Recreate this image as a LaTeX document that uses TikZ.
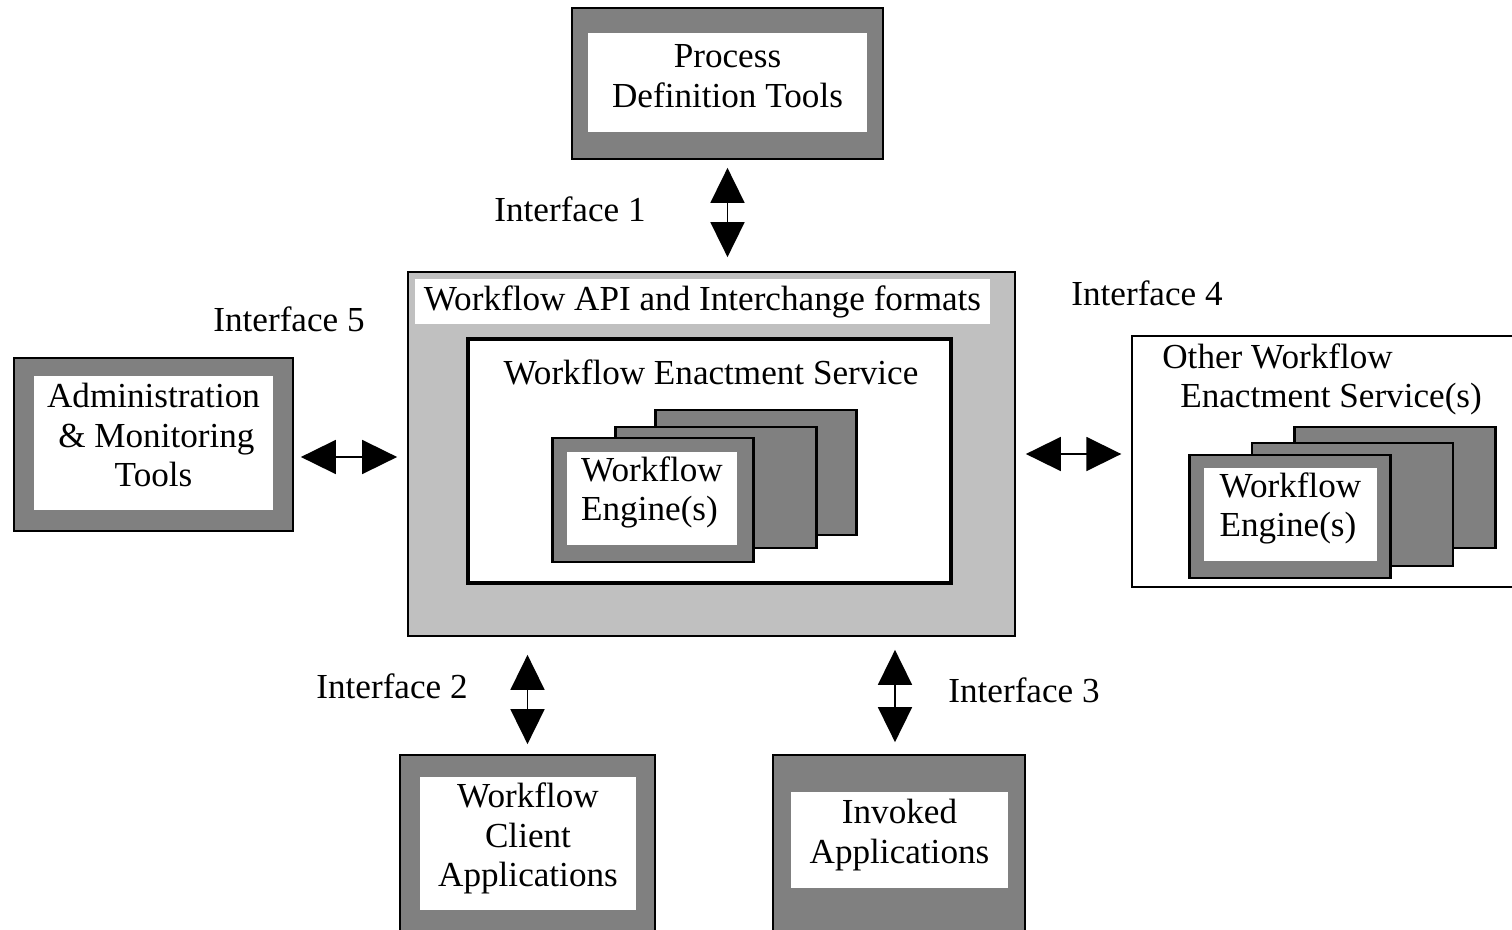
\documentclass[tikz,border=0pt]{standalone}
\usepackage{fontspec}
\setmainfont{Liberation Serif}
\usepackage{xcolor}
\usepackage{tikz}
\usetikzlibrary{arrows.meta}
\usetikzlibrary{calc,positioning}

\definecolor{boxgray}{HTML}{808080}
\definecolor{apigray}{HTML}{C0C0C0}
\newcommand{\pu}{0.02cm}

\tikzset{
	outerbox/.style={draw=black,fill=boxgray,line width=1pt,inner sep=0pt},
	innerbox/.style={fill=white,inner sep=0pt},
	enginebox/.style={draw=black,fill=boxgray,line width=1.5pt,inner sep=0pt,minimum width=201*\pu},
	dbl/.style={{Triangle[length=0.7cm,width=0.68cm]}-{Triangle[length=0.7cm,width=0.68cm]},line width=1pt},
	lbl/.style={inner sep=0pt,align=center}
}

\begin{document}
\begin{tikzpicture}[x=0.02cm,y=-0.02cm,font=\fontsize{20}{22.5}\selectfont]
	\clip (0,0) rectangle (1512,930);
	\fill[white] (0,0) rectangle (1512,930);
	% process definition tools
	\node[outerbox,minimum width=311*\pu,minimum height=151*\pu] (pdt) at (727.5,83.5) {};
	\node[innerbox,minimum width=279*\pu,minimum height=99*\pu] (pdtin) at (727.5,82.5) {};
	\node[lbl] (pdttext) at ([yshift=0.13cm]pdtin.center) {Process\\Definition Tools};
	% workflow api box
	\node[draw=black,fill=apigray,line width=1pt,inner sep=0pt,minimum width=607*\pu,minimum height=364*\pu] (api) at (711.5,454) {};
	\node[innerbox,minimum width=575*\pu,minimum height=45*\pu] (apititle) at (702.5,301.5) {Workflow API and Interchange formats};
	\node[draw=black,fill=white,line width=2pt,inner sep=0pt,minimum width=483*\pu,minimum height=244*\pu] (wes) at (709.5,461) {};
	\node[lbl] (westitle) at (711,372) {Workflow Enactment Service};
	\node[enginebox,minimum height=125*\pu] (eng3) at (756,472.5) {};
	\node[enginebox,minimum height=121*\pu] (eng2) at (716,487.5) {};
	\node[enginebox,minimum height=124*\pu] (eng1) at (653,500) {};
	\node[innerbox,minimum width=170*\pu,minimum height=93*\pu] (eng1in) at (652,498.5) {};
	\node[lbl,align=left] (eng1text) at ([yshift=0.12cm]eng1in.center) {Workflow\\Engine(s)};
	% admin tools
	\node[outerbox,minimum width=279*\pu,minimum height=173*\pu] (admin) at (153.5,444.5) {};
	\node[innerbox,minimum width=239*\pu,minimum height=134*\pu] (adminin) at (153.5,443) {};
	\node[lbl] (admintext) at ([yshift=0.16cm]adminin.center) {Administration\\\,\& Monitoring\\Tools};
	% other enactment services
	\node[draw=black,fill=white,line width=0.8pt,inner sep=0pt,minimum width=408*\pu,minimum height=251*\pu] (owes) at (1336,461.5) {};
	\node[lbl,anchor=north west,align=left] (owestitle) at (1162,343) {Other Workflow\\\hspace*{0.36cm}Enactment Service(s)};
	\node[enginebox,minimum height=121*\pu] (oeng3) at (1395,487.5) {};
	\node[enginebox,minimum height=123*\pu] (oeng2) at (1352.5,504.5) {};
	\node[enginebox,minimum height=123*\pu] (oeng1) at (1290,516.5) {};
	\node[innerbox,minimum width=173*\pu,minimum height=93*\pu] (oeng1in) at (1290.5,514.5) {};
	\node[lbl,align=left] (oeng1text) at ([yshift=0.12cm]oeng1in.center) {Workflow\\Engine(s)};
	% client and invoked apps
	\node[outerbox,minimum width=255*\pu,minimum height=205*\pu] (client) at (527.5,857.5) {};
	\node[innerbox,minimum width=216*\pu,minimum height=133*\pu] (clientin) at (528,843.5) {};
	\node[lbl] (clienttext) at ([yshift=0.1cm]clientin.center) {Workflow\\Client\\Applications};
	\node[outerbox,minimum width=252*\pu,minimum height=205*\pu] (invoked) at (899,857.5) {};
	\node[innerbox,minimum width=217*\pu,minimum height=96*\pu] (invokedin) at (899.5,840) {};
	\node[lbl] (invokedtext) at ([yshift=0.1cm]invokedin.center) {Invoked\\Applications};
	% interface labels
	\node[lbl] (if1) at (570,209) {Interface 1};
	\node[lbl] (if2) at (392,686) {Interface 2};
	\node[lbl] (if3) at (1024,690) {Interface 3};
	\node[lbl] (if4) at (1147,293) {Interface 4};
	\node[lbl] (if5) at (289,319) {Interface 5};
	% arrows
	\draw[dbl,shorten <=0.16cm,shorten >=0.28cm] (pdt.south) -- (pdt.south |- api.north);
	\draw[dbl,shorten <=0.36cm,shorten >=0.2cm] (client.north |- api.south) -- (client.north);
	\draw[dbl,shorten <=0.26cm,shorten >=0.24cm] ([xshift=-0.08cm]invoked.north |- api.south) -- ([xshift=-0.08cm]invoked.north);
	\draw[dbl,shorten <=0.2cm,shorten >=0.2cm] (api.east) -- (api.east -| owes.west);
	\draw[dbl,shorten <=0.14cm,shorten >=0.2cm] ([yshift=-0.25cm]admin.east) -- ([yshift=-0.25cm]admin.east -| api.west);
\end{tikzpicture}
\end{document}
